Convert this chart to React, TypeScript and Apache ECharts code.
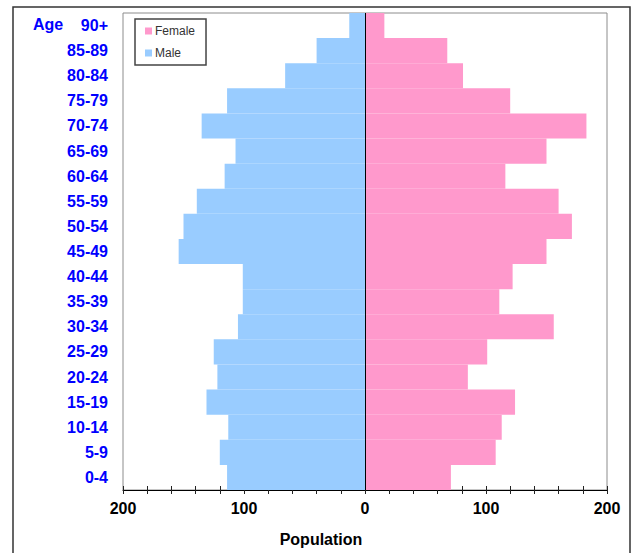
import React, { useEffect, useRef } from "react";
import * as echarts from "echarts";

const ages = ["0-4", "5-9", "10-14", "15-19", "20-24", "25-29", "30-34", "35-39", "40-44", "45-49", "50-54", "55-59", "60-64", "65-69", "70-74", "75-79", "80-84", "85-89", "90+"];
const male = [114, 120, 113, 131, 122, 125, 105, 101, 101, 154, 150, 139, 116, 107, 135, 114, 66, 40, 13];
const female = [71, 108, 113, 124, 85, 101, 156, 111, 122, 150, 171, 160, 116, 150, 183, 120, 81, 68, 16];
const legendNames = ["Female", "Male"];
const xMin = -200;
const xMax = 200;
const xTickStep = 20;

const FONT = "'Liberation Sans', Arial, sans-serif";

export default function App() {
  const ref = useRef<HTMLDivElement>(null);
  useEffect(() => {
    if (!ref.current) return;
    const chart = echarts.init(ref.current, undefined, { renderer: "svg" });
    const labelFmt = (v: number) => (Math.abs(v) % 100 === 0 ? String(Math.abs(v)) : "");
    chart.setOption({
      animation: false,
      backgroundColor: "#ffffff",
      textStyle: { fontFamily: FONT },
      grid: {
        left: 123,
        right: 26,
        top: 13,
        bottom: 63,
        show: true,
        borderColor: "#8c8c8c",
        borderWidth: 1,
        backgroundColor: "transparent",
      },
      legend: {
        data: legendNames,
        orient: "vertical",
        left: 135,
        top: 19,
        padding: [6, 11, 6, 10],
        itemGap: 10,
        itemWidth: 7,
        itemHeight: 7,
        icon: "rect",
        borderColor: "#444",
        borderWidth: 1.5,
        backgroundColor: "#fff",
        textStyle: { fontSize: 12, color: "#333", fontFamily: FONT, padding: [0, 0, 0, -2] },
      },
      xAxis: [
        {
          type: "value",
          min: xMin,
          max: xMax,
          interval: xTickStep,
          axisLine: { show: true, onZero: false, lineStyle: { color: "#000", width: 1 } },
          axisTick: { show: true, length: 4, lineStyle: { color: "#222" } },
          axisLabel: {
            formatter: labelFmt,
            fontSize: 16,
            fontWeight: "bold",
            color: "#000",
            margin: 10,
            fontFamily: FONT,
          },
          splitLine: { show: false },
        },
        {
          type: "value",
          position: "bottom",
          min: xMin,
          max: xMax,
          interval: xTickStep,
          axisLine: { show: false },
          axisTick: { show: true, inside: true, length: 4, lineStyle: { color: "#222" } },
          axisLabel: { show: false },
          splitLine: { show: false },
        },
      ],
      yAxis: {
        type: "category",
        data: ages,
        axisLine: { show: false, onZero: false },
        axisTick: { show: false },
        axisLabel: {
          fontSize: 16,
          fontWeight: "bold",
          color: "#0000ff",
          margin: 15,
          fontFamily: FONT,
        },
        splitLine: { show: false },
      },
      series: [
        {
          name: "Male",
          type: "bar",
          stack: "pop",
          data: male.map((v) => -v),
          barCategoryGap: "0%",
          itemStyle: { color: "#99ccff" },
        },
        {
          name: "Female",
          type: "bar",
          stack: "pop",
          data: female,
          barCategoryGap: "0%",
          itemStyle: { color: "#ff99cc" },
          markLine: {
            silent: true,
            symbol: "none",
            label: { show: false },
            lineStyle: { color: "#000", width: 1, type: "solid" },
            data: [{ xAxis: 0 }],
          },
        },
      ],
      graphic: [
        {
          type: "rect",
          shape: { x: 13, y: 7, width: 617, height: 560 },
          style: { fill: "none", stroke: "#333", lineWidth: 1.5 },
          silent: true,
        },
        {
          type: "text",
          left: 33,
          top: 16,
          style: { text: "Age", fontSize: 16, fontWeight: "bold", fill: "#0000ff", fontFamily: FONT },
        },
        {
          type: "text",
          x: 321,
          y: 539,
          style: {
            text: "Population",
            fontSize: 16,
            fontWeight: "bold",
            fill: "#000",
            fontFamily: FONT,
            align: "center",
            verticalAlign: "middle",
          },
        },
      ],
    });
    return () => chart.dispose();
  }, []);
  return (
    <div
      ref={ref}
      style={{ position: "fixed", left: 0, top: 0, width: 633, height: 553 }}
    />
  );
}
